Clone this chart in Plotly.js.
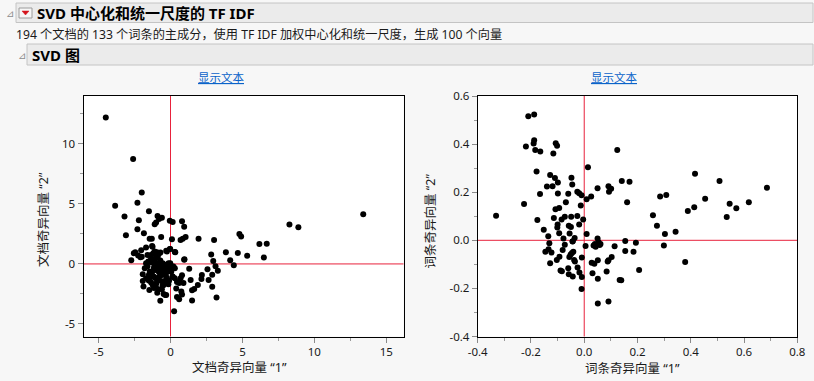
<!DOCTYPE html>
<html><head><meta charset="utf-8">
<script src="https://cdn.plot.ly/plotly-3.0.1.min.js"></script>
<style>html,body{margin:0;padding:0;background:#f7f7f7;}#chart{width:814px;height:381px;}</style>
</head><body><div id="chart"></div>
<script>
// ---- Data: document singular vectors (left plot) ----
const docX = [-4.5,-2.6,-2.0,-3.85,-2.3,-3.2,-3.1,-1.5,-2.2,-2.3,-1.85,-0.9,-0.6,-1.1,-1.0,-0.8,-0.05,0.15,0.8,0.95,
 -0.65,-1.45,-1.3,0.1,0.7,0.85,1.05,1.95,3.03,4.79,4.91,6.18,6.69,8.27,8.89,13.4,2.83,3.85,4.68,5.33,
 6.49,2.97,4.15,4.4,3.13,3.29,2.57,2.18,2.15,2.9,2.65,2.9,3.2,1.9,1.4,1.3,1.65,1.5,1.5,0.75,
 0.8,0.6,0.45,0.25,0.7,0.8,0.6,0.3,0.3,0.0,0.15,0.95,0.3,-0.05,-0.3,-2.73,-2.55,-2.45,-2.25,-2.09,
 -2.04,-1.7,-1.7,-1.79,-1.93,-1.93,-1.88,-1.47,-1.51,-1.28,-1.35,-1.35,-1.28,-1.1,-0.94,-0.83,-1.44,-1.3,-1.14,-1.03,
 -0.8,-0.98,-1.24,-1.03,-0.85,-0.92,-0.71,-0.48,-0.37,-0.6,-0.48,-0.37,-0.25,-0.32,-0.48,-0.57,-0.39,-0.14,-0.02,0.2,
 0.02,0.14,-0.3,-0.25,-0.6,-0.83,-1.17,-0.99,-0.76,-0.55,-0.71,-0.94,-1.1,-0.9,-1.2,-0.7,-0.45,-1.55,-1.6,-1.05,
 -0.65,-1.35,-1.5,-0.2,-0.1,-0.75,-0.55,-1.15,-0.3,-0.15,-1.7,-1.35,-1.25,-0.25,-0.02,0.33,0.97,-1.0,-1.15,-0.85,
 -0.5,-0.6,-0.35,0.05,0.45,-2.0,-1.6,-0.1,0.4,0.9];
const docY = [12.2,8.75,5.95,4.85,5.1,3.95,2.4,4.4,3.65,2.9,2.55,4.0,3.85,3.3,3.45,3.75,3.6,3.5,3.55,3.1,
 2.25,2.1,2.1,2.05,2.0,2.1,2.25,2.1,2.0,2.5,2.28,1.67,1.69,3.28,3.06,4.15,0.78,0.97,0.92,0.69,
 0.53,0.25,0.31,-0.11,-0.2,-0.56,-0.44,-0.92,-1.25,-0.9,-1.35,-1.9,-2.8,-1.75,-1.35,-0.4,-2.1,-2.2,-3.05,-2.3,
 -2.55,-2.95,-2.75,-3.95,-1.2,-0.95,-1.6,-1.2,-0.35,-0.1,-1.05,0.35,1.0,1.25,1.1,0.31,0.89,0.97,0.7,0.56,
 1.14,1.36,0.05,-0.36,-0.86,-1.42,-1.89,-2.17,-1.39,1.5,0.75,0.47,0.11,1.03,0.97,0.81,-0.64,-0.78,-1.06,-1.2,
 -1.34,-1.62,-1.75,-1.89,-2.12,-2.4,-3.07,-2.5,-2.58,-2.12,-1.75,-1.48,-1.2,-0.92,-0.64,-0.5,-0.22,0.06,0.06,-0.22,
 -0.5,-1.06,-1.28,-1.56,-0.92,-0.64,-0.5,-0.5,-0.08,0.06,0.28,0.06,0.3,0.55,0.9,0.95,-0.05,0.2,-0.2,-0.1,
 -0.3,-1.1,-0.9,-0.6,-0.35,-1.0,-1.8,-2.0,-2.6,-1.7,-1.2,-1.55,1.44,1.03,1.25,0.98,0.39,0.6,-0.3,-0.4,
 -0.85,-1.45,-0.7,-0.65,-1.5,0.6,0.75,-1.4,-2.05,-1.6];

// ---- Data: term singular vectors (right plot) ----
const termX = [-0.331,-0.21,-0.188,-0.219,-0.188,-0.19,-0.184,-0.165,-0.116,-0.107,-0.102,-0.179,-0.226,-0.166,-0.176,-0.152,-0.135,-0.131,-0.146,-0.134,
 -0.123,-0.128,-0.14,-0.128,-0.119,-0.11,-0.099,-0.099,-0.114,-0.108,-0.094,-0.1,-0.101,-0.094,-0.085,-0.078,-0.073,-0.069,-0.073,-0.081,
 -0.103,-0.093,-0.089,-0.084,-0.06,-0.048,-0.045,-0.058,-0.05,-0.049,-0.055,-0.043,-0.036,-0.046,-0.041,-0.056,-0.051,-0.038,-0.035,-0.06,
 -0.058,-0.043,-0.026,-0.019,-0.01,-0.013,-0.026,-0.019,-0.004,0.009,-0.025,-0.018,-0.009,-0.01,-0.009,0.005,0.014,0.009,0.026,0.05,
 0.05,0.04,0.045,0.043,0.054,0.061,0.031,0.038,0.028,0.051,0.051,0.051,0.091,0.088,0.084,0.091,0.103,0.114,0.091,0.101,
 0.093,0.124,0.141,0.17,0.161,0.154,0.154,0.185,0.194,0.206,0.133,0.139,0.258,0.273,0.285,0.308,0.303,0.299,0.343,0.379,
 0.389,0.413,0.416,0.454,0.508,0.535,0.546,0.571,0.618,0.686,0.035,-0.044,0.058];
const termY = [0.102,0.516,0.523,0.39,0.416,0.402,0.375,0.369,0.361,0.404,0.393,0.286,0.151,0.192,0.084,0.044,0.017,-0.012,-0.048,-0.037,
 -0.051,-0.095,0.224,0.272,0.225,0.259,0.24,0.195,0.093,0.129,0.134,0.066,0.053,0.029,0.087,0.007,0.098,0.158,-0.018,-0.04,
 -0.082,-0.068,-0.126,-0.129,0.194,0.26,0.232,0.061,0.055,0.098,0.028,-0.004,0.01,-0.053,-0.048,-0.069,-0.059,-0.082,-0.088,-0.116,
 -0.141,-0.151,0.202,0.196,0.187,0.145,0.101,0.066,0.087,0.026,-0.113,-0.134,-0.153,-0.202,-0.071,-0.024,0.304,0.171,0.182,0.216,
 0.007,-0.015,-0.018,-0.027,-0.008,-0.015,-0.137,-0.097,-0.093,-0.083,-0.16,-0.263,-0.254,-0.088,-0.13,-0.083,-0.069,-0.025,0.225,0.214,
 0.202,0.375,0.247,0.243,0.158,-0.003,-0.044,-0.048,-0.01,-0.123,-0.165,-0.166,0.104,0.061,0.182,0.188,0.026,-0.022,0.036,-0.09,
 0.122,0.137,0.277,0.173,0.247,0.097,0.152,0.133,0.158,0.218,-0.022,-0.005,-0.02];

// ---- Tick labels ----
const docXTicks = [-5,0,5,10,15];
const docXTickText = ["-5","0","5","10","15"];
const docYTicks = [-5,0,5,10];
const docYTickText = ["-5","0","5","10"];
const termXTicks = [-0.4,-0.2,0,0.2,0.4,0.6,0.8];
const termXTickText = ["-0.4","-0.2","0.0","0.2","0.4","0.6","0.8"];
const termYTicks = [-0.4,-0.2,0,0.2,0.4,0.6];
const termYTickText = ["-0.4","-0.2","0.0","0.2","0.4","0.6"];

const W = 814, H = 381;
const PX = p => p / W, PY = p => 1 - p / H;
const FONT = '"Noto Sans", "Noto Sans CJK SC", sans-serif';
const RED = '#e8223c';

const traces = [
  {x: docX, y: docY, type: 'scatter', mode: 'markers', xaxis: 'x', yaxis: 'y',
   marker: {color: '#000', size: 6}, hoverinfo: 'x+y'},
  {x: termX, y: termY, type: 'scatter', mode: 'markers', xaxis: 'x2', yaxis: 'y2',
   marker: {color: '#000', size: 6}, hoverinfo: 'x+y'}
];

function axis(domain, range, tv, tt, minorDt, anchor) {
  return {domain: domain, range: range, anchor: anchor, tickvals: tv, ticktext: tt,
    ticks: 'outside', ticklen: 5, tickcolor: '#8a8a8a', tickwidth: 1,
    minor: {dtick: minorDt, tick0: 0, ticks: 'outside', ticklen: 3, tickcolor: '#9a9a9a', showgrid: false},
    showline: true, linecolor: '#000', linewidth: 1, mirror: true,
    showgrid: false, zeroline: false, fixedrange: true,
    tickfont: {family: FONT, size: 11.5, color: '#1a1a1a'}};
}

const yDom = [PY(336.5), PY(96)];
const layout = {
  width: W, height: H,
  margin: {l: 0, r: 0, t: 0, b: 0},
  paper_bgcolor: '#f7f7f7', plot_bgcolor: '#ffffff',
  showlegend: false,
  font: {family: FONT, color: '#1a1a1a'},
  xaxis: axis([PX(83.5), PX(403.5)], [-6.05, 16.2], docXTicks, docXTickText, 2.5, 'y'),
  yaxis: axis(yDom, [-6.05, 14], docYTicks, docYTickText, 2.5, 'x'),
  xaxis2: axis([PX(477.7), PX(797.3)], [-0.4, 0.8], termXTicks, termXTickText, 0.1, 'y2'),
  yaxis2: axis(yDom, [-0.4, 0.6], termYTicks, termYTickText, 0.1, 'x2'),
  shapes: [
    {type: 'rect', xref: 'paper', yref: 'paper', x0: PX(16), x1: PX(813), y0: PY(22.5), y1: PY(3),
     fillcolor: '#ebebeb', line: {color: '#c4c4c4', width: 1}, layer: 'below'},
    {type: 'rect', xref: 'paper', yref: 'paper', x0: PX(19), x1: PX(32), y0: PY(18), y1: PY(8),
     fillcolor: '#f6f6f6', line: {color: '#9c9c9c', width: 1}},
    {type: 'path', xref: 'paper', yref: 'paper',
     path: 'M ' + PX(22) + ' ' + PY(11) + ' L ' + PX(29) + ' ' + PY(11) + ' L ' + PX(25.5) + ' ' + PY(15) + ' Z',
     fillcolor: '#d4141c', line: {color: '#d4141c', width: 0.5}},
    {type: 'rect', xref: 'paper', yref: 'paper', x0: PX(27), x1: PX(813), y0: PY(65), y1: PY(44),
     fillcolor: '#ebebeb', line: {color: '#c4c4c4', width: 1}, layer: 'below'},
    {type: 'line', xref: 'x', yref: 'y domain', x0: 0, x1: 0, y0: 0, y1: 1, line: {color: RED, width: 1}, layer: 'below'},
    {type: 'line', xref: 'x domain', yref: 'y', x0: 0, x1: 1, y0: 0, y1: 0, line: {color: RED, width: 1}, layer: 'below'},
    {type: 'line', xref: 'x2', yref: 'y2 domain', x0: 0, x1: 0, y0: 0, y1: 1, line: {color: RED, width: 1}, layer: 'below'},
    {type: 'line', xref: 'x2 domain', yref: 'y2', x0: 0, x1: 1, y0: 0, y1: 0, line: {color: RED, width: 1}, layer: 'below'}
  ],
  annotations: [
    {text: '⊿', xref: 'paper', yref: 'paper', x: PX(9.5), y: PY(13), xanchor: 'center', yanchor: 'middle',
     showarrow: false, font: {family: '"DejaVu Sans"', size: 10, color: '#8c8c8c'}},
    {text: '<b>SVD 中心化和统一尺度的 TF IDF</b>', xref: 'paper', yref: 'paper', x: PX(34.5), y: PY(13), xanchor: 'left', yanchor: 'middle',
     showarrow: false, font: {family: FONT, size: 15, color: '#000'}},
    {text: '194 个文档的 133 个词条的主成分，使用 TF IDF 加权中心化和统一尺度，生成 100 个向量', xref: 'paper', yref: 'paper',
     x: PX(13.5), y: PY(34.5), xanchor: 'left', yanchor: 'middle',
     showarrow: false, font: {family: FONT, size: 12.2, color: '#1a1a1a'}},
    {text: '⊿', xref: 'paper', yref: 'paper', x: PX(21.5), y: PY(55), xanchor: 'center', yanchor: 'middle',
     showarrow: false, font: {family: '"DejaVu Sans"', size: 10, color: '#8c8c8c'}},
    {text: '<b>SVD 图</b>', xref: 'paper', yref: 'paper', x: PX(29.5), y: PY(55), xanchor: 'left', yanchor: 'middle',
     showarrow: false, font: {family: FONT, size: 15, color: '#000'}},
    {text: '<u>显示文本</u>', xref: 'paper', yref: 'paper', x: PX(221.5), y: PY(77), xanchor: 'center', yanchor: 'middle',
     showarrow: false, font: {family: FONT, size: 11.5, color: '#0a63c9'}},
    {text: '<u>显示文本</u>', xref: 'paper', yref: 'paper', x: PX(614), y: PY(77), xanchor: 'center', yanchor: 'middle',
     showarrow: false, font: {family: FONT, size: 11.5, color: '#0a63c9'}},
    {text: '文档奇异向量 “1”', xref: 'paper', yref: 'paper', x: PX(239), y: PY(367), xanchor: 'center', yanchor: 'middle',
     showarrow: false, font: {family: FONT, size: 12.5, color: '#1a1a1a'}},
    {text: '文档奇异向量 “2”', xref: 'paper', yref: 'paper', x: PX(43), y: PY(220), xanchor: 'center', yanchor: 'middle',
     textangle: -90, showarrow: false, font: {family: FONT, size: 12.5, color: '#1a1a1a'}},
    {text: '词条奇异向量 “1”', xref: 'paper', yref: 'paper', x: PX(632), y: PY(368), xanchor: 'center', yanchor: 'middle',
     showarrow: false, font: {family: FONT, size: 12.5, color: '#1a1a1a'}},
    {text: '词条奇异向量 “2”', xref: 'paper', yref: 'paper', x: PX(430), y: PY(221.5), xanchor: 'center', yanchor: 'middle',
     textangle: -90, showarrow: false, font: {family: FONT, size: 12.5, color: '#1a1a1a'}}
  ]
};

Plotly.newPlot('chart', traces, layout, {displayModeBar: false, staticPlot: true});
</script>
</body></html>
